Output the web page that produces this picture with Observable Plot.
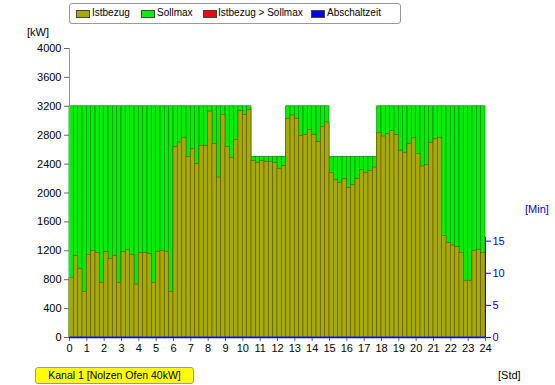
<!DOCTYPE html>
<html>
<head>
<meta charset="utf-8">
<script src="https://cdn.jsdelivr.net/npm/d3@7"></script>
<script src="https://cdn.jsdelivr.net/npm/@observablehq/plot@0.6"></script>
<style>
  html, body { margin: 0; padding: 0; background: #fff; }
  #wrap { position: relative; width: 555px; height: 385px; font-family: "Liberation Sans", Arial, sans-serif; font-size: 11px; color: #000; }
  #chart { position: absolute; left: 0; top: 0; }
  .abs { position: absolute; white-space: nowrap; }
  #legend { left: 69px; top: 3px; width: 330px; height: 19px; border: 1px solid #999; border-radius: 3px; background: #fff; font-size: 10px; }
  .sw { position: absolute; top: 6px; width: 12px; height: 6px; border: 1px solid #444; }
  .lt { position: absolute; top: 3px; line-height: 12px; }
  #kanal { left: 35px; top: 367px; width: 157px; height: 15px; background: #ffff00; border: 1px solid #999; border-radius: 3px; text-align: center; line-height: 15px; font-size: 10.5px; }
</style>
</head>
<body>
<div id="wrap">
  <div id="chart"></div>
  <div id="legend" class="abs">
    <div class="sw" style="left:6px;background:#a9a900;"></div><div class="lt" style="left:22px;">Istbezug</div>
    <div class="sw" style="left:71px;background:#00f000;"></div><div class="lt" style="left:87px;">Sollmax</div>
    <div class="sw" style="left:133px;background:#ff0000;"></div><div class="lt" style="left:148px;">Istbezug &gt; Sollmax</div>
    <div class="sw" style="left:241px;background:#0000ff;"></div><div class="lt" style="left:257px;">Abschaltzeit</div>
  </div>
  <div class="abs" style="left:27px;top:26px;">[kW]</div>
  <div class="abs" style="left:525px;top:203px;color:#0000ff;">[Min]</div>
  <div class="abs" style="left:498px;top:369px;">[Std]</div>
  <div id="kanal" class="abs">Kanal 1 [Nolzen Ofen 40kW]</div>
</div>
<script>
// Istbezug per quarter hour (kW)
const istbezug = [
  826,1131,950,632,1144,1200,1172,757,1186,1089,1131,757,1186,1214,1144,734,1172,1172,1158,757,1186,1200,1186,632,
  2639,2699,2764,2501,2606,2399,2653,2653,3128,2681,2214,3082,2639,2487,2736,3137,3082,3151,
  2441,2418,2445,2432,2432,2413,2335,2376,
  3027,3073,3027,2791,2805,2870,2805,2708,2911,2976,
  2279,2177,2141,2191,2072,2108,2196,2316,2279,2307,2353,
  2833,2782,2814,2860,2805,2584,2556,2681,2764,2542,2367,2390,2695,2750,2764,1407,1310,1273,1250,1172,785,785,1200,1214,1172
];
// Sollmax per quarter hour (kW)
const sollmax = [
  3200,3200,3200,3200,3200,3200,3200,3200,3200,3200,3200,3200,3200,3200,3200,3200,3200,3200,3200,3200,3200,3200,3200,3200,
  3200,3200,3200,3200,3200,3200,3200,3200,3200,3200,3200,3200,3200,3200,3200,3200,3200,3200,
  2500,2500,2500,2500,2500,2500,2500,2500,
  3200,3200,3200,3200,3200,3200,3200,3200,3200,3200,
  2500,2500,2500,2500,2500,2500,2500,2500,2500,2500,2500,
  3200,3200,3200,3200,3200,3200,3200,3200,3200,3200,3200,3200,3200,3200,3200,3200,3200,3200,3200,3200,3200,3200,3200,3200,3200
];
const hourTicks = [0,1,2,3,4,5,6,7,8,9,10,11,12,13,14,15,16,17,18,19,20,21,22,23,24];
const kwTicks = [0,400,800,1200,1600,2000,2400,2800,3200,3600,4000];
const minTicks = [0,5,10,15];
const minMax = 45;      // Abschaltzeit axis: 0..45 min over 0..4000 kW
const kwMax = 4000;

const bars = istbezug.map((v, i) => ({x1: i / 4, x2: (i + 1) / 4, ist: v, soll: sollmax[i]}));
const toKw = m => m * kwMax / minMax;

const chart = Plot.plot({
  width: 555,
  height: 385,
  marginLeft: 69,
  marginRight: 70,
  marginTop: 48,
  marginBottom: 48,
  style: {fontFamily: "'Liberation Sans', Arial, sans-serif", fontSize: "11px", background: "transparent", color: "#000"},
  x: {domain: [0, 24]},
  y: {domain: [0, kwMax]},
  marks: [
    Plot.rect(bars, {x1: "x1", x2: "x2", y1: 0, y2: "soll", fill: "#00f000", stroke: "#008a00", strokeWidth: 0.7}),
    Plot.rect(bars, {x1: "x1", x2: "x2", y1: 0, y2: "ist", fill: "#a9a900", stroke: "#5e5e00", strokeWidth: 0.7}),
    Plot.ruleX([0], {y1: 0, y2: kwMax, stroke: "#999"}),
    Plot.axisY({ticks: kwTicks, tickFormat: d => String(d), label: null, tickSize: 5, tickPadding: 3, stroke: "#666"}),
    Plot.axisX({ticks: hourTicks, tickFormat: d => String(d), label: null, tickSize: 4, tickPadding: 3, stroke: "#666"}),
    Plot.ruleX([24], {y1: 0, y2: toKw(15.6), stroke: "#0000ff"}),
    Plot.axisY({anchor: "right", ticks: minTicks.map(toKw), tickFormat: d => String(Math.round(d * minMax / kwMax)), label: null, tickSize: 5, tickPadding: 2, color: "#0000ff"}),
    Plot.ruleY([0], {stroke: "#0000ff", strokeWidth: 1.5})
  ]
});
document.getElementById("chart").appendChild(chart);
</script>
</body>
</html>
